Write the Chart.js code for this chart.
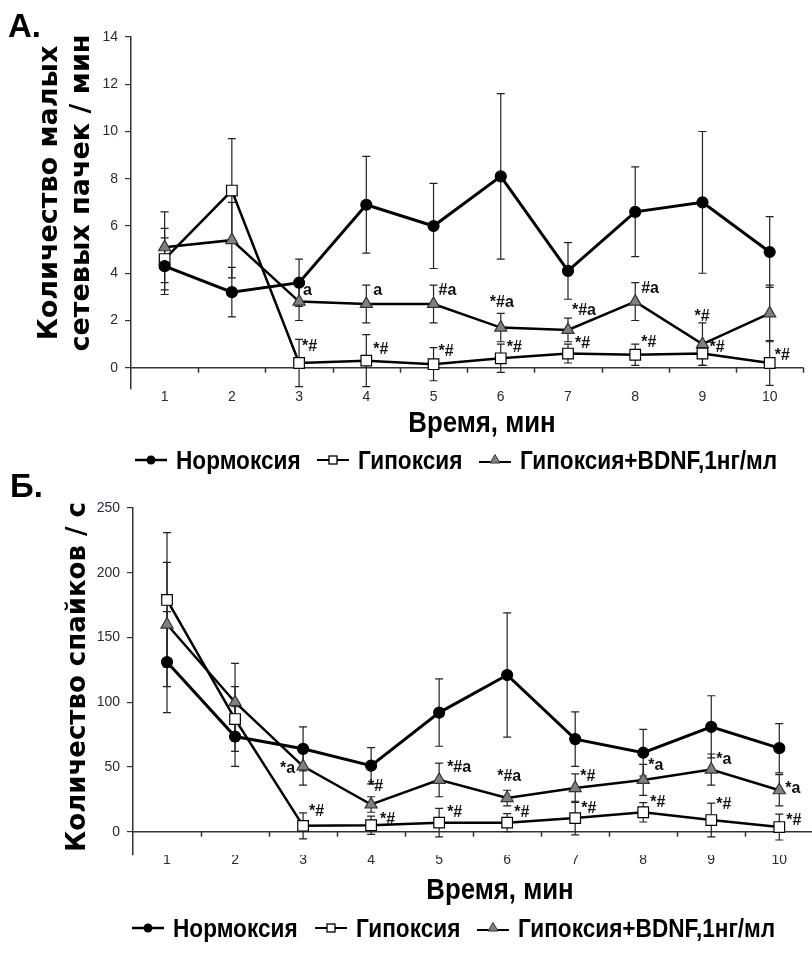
<!DOCTYPE html>
<html>
<head>
<meta charset="utf-8">
<script src="https://cdn.jsdelivr.net/npm/chart.js@4.4.1/dist/chart.umd.min.js"></script>
<style>
  html, body { margin: 0; padding: 0; background: #fff; overflow: hidden; }
  #page { position: relative; width: 812px; height: 960px; overflow: hidden; }
  #wrapA { position: absolute; left: 0; top: 0; width: 812px; height: 480px; }
  #wrapB { position: absolute; left: 0; top: 470px; width: 822px; height: 490px; }
  .legend { position: absolute; left: 0; width: 812px; height: 30px;
    font: bold 26px "Liberation Sans", Arial, sans-serif; color: #000; }
  .legend .item { position: absolute; top: 0; height: 30px; display: flex; align-items: center; white-space: nowrap; }
  .legend svg { margin-right: 9px; flex: none; }
  .legend .txt { display: inline-block; transform: scaleX(0.87); transform-origin: left center; }
</style>
</head>
<body>
<div id="page">
  <div id="wrapA"><canvas id="chartA" width="812" height="480"></canvas></div>
  <div id="wrapB"><canvas id="chartB" width="822" height="490"></canvas></div>
  <div class="legend" id="legendA" style="top:445px"></div>
  <div class="legend" id="legendB" style="top:913px"></div>
</div>
<script>
// ---- data ----
const minutes = ['1', '2', '3', '4', '5', '6', '7', '8', '9', '10'];
const seriesNames = ['Нормоксия', 'Гипоксия', 'Гипоксия+BDNF,1нг/мл'];

// А. small network bursts per minute (mean, error)
const burstTicks = [0, 2, 4, 6, 8, 10, 12, 14];
const burstsNorm = [4.3, 3.2, 3.6, 6.9, 6.0, 8.1, 4.1, 6.6, 7.0, 4.9];
const burstsNormErr = [1.2, 1.05, 1.0, 2.05, 1.8, 3.5, 1.2, 1.9, 3.0, 1.5];
const burstsHyp = [4.6, 7.5, 0.2, 0.3, 0.15, 0.4, 0.6, 0.55, 0.6, 0.2];
const burstsHypErr = [1.3, 2.2, 1.0, 1.1, 0.7, 0.6, 0.4, 0.45, 0.5, 0.95];
const burstsBdnf = [5.1, 5.4, 2.8, 2.7, 2.7, 1.7, 1.6, 2.8, 1.0, 2.3];
const burstsBdnfErr = [1.5, 1.6, 0.8, 0.8, 0.8, 0.6, 0.5, 0.8, 0.9, 1.2];
const burstsHypMarks = ['', '', '*#', '*#', '*#', '*#', '*#', '*#', '*#', '*#'];
const burstsBdnfMarks = ['', '', 'a', 'a', '#a', '*#a', '*#a', '#a', '*#', ''];

// Б. spikes per second (mean, error)
const spikeTicks = [0, 50, 100, 150, 200, 250];
const spikesNorm = [131, 73.5, 64, 51, 92, 121, 71.5, 61, 81, 64.5];
const spikesNormErr = [39, 23, 17, 14, 26, 48, 21, 18, 24, 19];
const spikesHyp = [179, 87, 4.5, 5, 7, 7, 10.5, 15, 9, 3.6];
const spikesHypErr = [52, 25, 10, 7, 11, 7, 13, 7.5, 13, 10];
const spikesBdnf = [160, 100, 50.5, 21, 40, 26, 33.7, 40, 48, 32];
const spikesBdnfErr = [48, 30, 14.6, 6, 13, 6, 11, 12, 12, 12];
const spikesHypMarks = ['', '', '*#', '*#', '*#', '*#', '*#', '*#', '*#', '*#'];
const spikesBdnfMarks = ['', '', '*a', '*#', '*#a', '*#a', '*#', '*a', '*a', '*a'];

// where each significance mark sits, [dx, dy] in px from its marker
const burstsHypMarkPos = [null, null, [3, 16], [7, 11], [5, 13], [6, 11], [7, 10], [6, 12], [7, 6], [5, 7]];
const burstsBdnfMarkPos = [null, null, [4, 11], [7, 13], [5, 13], [-11, 25], [4, 19], [6, 13], [-8, 28], null];
const spikesHypMarkPos = [null, null, [6, 14], [9, 6], [8, 10], [7, 10], [6, 10], [7, 10], [5, 15], [7, 6]];
const spikesBdnfMarkPos = [null, null, [-23, -2], [-3, 18], [8, 12], [-10, 21], [5, 11], [5, 14], [5, 10], [6, 2]];

// ---- styles ----
const SANS = '"Liberation Sans", Arial, sans-serif';
const WIDE = '"DejaVu Sans", Verdana, sans-serif';
const AXIS = '#333';

// ---- plugins ----
const zeroAxis = {
  id: 'zeroAxis',
  beforeDatasetsDraw(chart) {
    const { ctx, chartArea } = chart;
    const x = chart.scales.x;
    const y0 = chart.scales.y.getPixelForValue(0);
    ctx.save();
    ctx.strokeStyle = AXIS;
    ctx.lineWidth = 1.5;
    ctx.beginPath();
    ctx.moveTo(chartArea.left, y0);
    ctx.lineTo(chartArea.right, y0);
    for (let i = 0; i < minutes.length; i++) {
      const tx = Math.round(x.getPixelForValue(i + 0.5)) + 0.5;
      ctx.moveTo(tx, y0);
      ctx.lineTo(tx, y0 + 5);
    }
    ctx.stroke();
    ctx.restore();
  }
};

const errorBars = {
  id: 'errorBars',
  beforeDatasetsDraw(chart) {
    const { ctx } = chart;
    const y = chart.scales.y;
    ctx.save();
    ctx.strokeStyle = '#222';
    ctx.lineWidth = 1.2;
    chart.data.datasets.forEach((ds, i) => {
      chart.getDatasetMeta(i).data.forEach((pt, j) => {
        const top = y.getPixelForValue(ds.data[j] + ds.errors[j]);
        const bot = y.getPixelForValue(ds.data[j] - ds.errors[j]);
        ctx.beginPath();
        ctx.moveTo(pt.x, top); ctx.lineTo(pt.x, bot);
        ctx.moveTo(pt.x - 4, top); ctx.lineTo(pt.x + 4, top);
        ctx.moveTo(pt.x - 4, bot); ctx.lineTo(pt.x + 4, bot);
        ctx.stroke();
      });
    });
    ctx.restore();
  }
};

const sigMarks = {
  id: 'sigMarks',
  afterDatasetsDraw(chart) {
    const { ctx } = chart;
    ctx.save();
    ctx.font = 'bold 16px ' + SANS;
    ctx.fillStyle = '#111';
    ctx.textAlign = 'left';
    ctx.textBaseline = 'middle';
    chart.data.datasets.forEach((ds, i) => {
      if (!ds.marks) return;
      chart.getDatasetMeta(i).data.forEach((pt, j) => {
        const pos = ds.markPos[j];
        if (!ds.marks[j] || !pos) return;
        ctx.fillText(ds.marks[j], pt.x + pos[0], pt.y - pos[1]);
      });
    });
    ctx.restore();
  }
};

// panel letter, rotated y title and the condensed x title
const panelText = {
  id: 'panelText',
  afterDraw(chart, args, opts) {
    const { ctx } = chart;
    ctx.save();
    ctx.fillStyle = '#000';
    ctx.font = 'bold 33px ' + SANS;
    ctx.textAlign = 'left';
    ctx.textBaseline = 'alphabetic';
    ctx.fillText(opts.letter, opts.letterX, opts.letterY);

    ctx.font = 'bold ' + opts.titleSize + 'px ' + WIDE;
    ctx.textAlign = 'center';
    opts.title.forEach((line, k) => {
      ctx.save();
      ctx.translate(opts.titleX[k], opts.titleY);
      ctx.rotate(-Math.PI / 2);
      ctx.fillText(line, 0, 0);
      ctx.restore();
    });

    ctx.save();
    ctx.font = 'bold 30px ' + SANS;
    ctx.textBaseline = 'middle';
    ctx.translate(opts.xTitleX, opts.xTitleY);
    ctx.scale(0.86, 1);
    ctx.fillText('Время, мин', 0, 0);
    ctx.restore();
    ctx.restore();
  }
};

// ---- chart builder ----
function lineSet(k, data, errors, marks, markPos) {
  const looks = [
    { pointStyle: 'circle', pointRadius: 5.5, pointBackgroundColor: '#000', pointBorderColor: '#000', borderWidth: 3 },
    { pointStyle: 'rect', pointRadius: 7.5, pointBackgroundColor: '#fff', pointBorderColor: '#000', borderWidth: 2.5 },
    { pointStyle: 'triangle', pointRadius: 7, pointBackgroundColor: '#808080', pointBorderColor: '#333', borderWidth: 2.5 }
  ][k];
  return Object.assign({
    label: seriesNames[k], data, errors, marks, markPos,
    borderColor: '#000', pointBorderWidth: 1.2, tension: 0
  }, looks);
}

function makeChart(id, cfg) {
  return new Chart(document.getElementById(id), {
    type: 'line',
    data: { labels: minutes, datasets: cfg.datasets },
    plugins: [zeroAxis, errorBars, sigMarks, panelText],
    options: {
      responsive: false,
      animation: false,
      layout: { padding: { top: cfg.top, right: cfg.right, left: 0, bottom: 0 } },
      plugins: {
        legend: { display: false },
        tooltip: { enabled: false },
        panelText: cfg.panel
      },
      scales: {
        x: {
          offset: true,
          afterFit: s => { s.height = cfg.xHeight; },
          border: { display: false },
          grid: { display: false, drawTicks: false },
          ticks: { padding: cfg.xTickPad, color: '#2a2a3a', maxRotation: 0, autoSkip: false,
            font: { family: SANS, size: 14, lineHeight: 1 } }
        },
        y: {
          min: cfg.yMin, max: cfg.yMax,
          afterBuildTicks: s => { s.ticks = cfg.yTicks.map(v => ({ value: v })); },
          afterFit: s => { s.width = cfg.yWidth; },
          border: { display: true, color: AXIS, width: 1.5 },
          grid: { drawOnChartArea: false, drawTicks: true, tickLength: 6, color: AXIS, lineWidth: 1.2 },
          ticks: { padding: 7, color: '#2a2a3a', font: { family: SANS, size: 14, lineHeight: 1 } }
        }
      }
    }
  });
}

makeChart('chartA', {
  top: 37, right: 1, yWidth: 131, xHeight: 91, xTickPad: 1,
  yMin: -0.9, yMax: 14, yTicks: burstTicks,
  panel: { letter: 'А.', letterX: 8, letterY: 37,
    title: ['Количество малых', 'сетевых пачек / мин'], titleSize: 27, titleX: [57, 89], titleY: 193,
    xTitleX: 482, xTitleY: 424 },
  datasets: [
    lineSet(0, burstsNorm, burstsNormErr, null, null),
    lineSet(1, burstsHyp, burstsHypErr, burstsHypMarks, burstsHypMarkPos),
    lineSet(2, burstsBdnf, burstsBdnfErr, burstsBdnfMarks, burstsBdnfMarkPos)
  ]
});

makeChart('chartB', {
  top: 38, right: 1, yWidth: 133, xHeight: 105, xTickPad: -2,
  yMin: -18, yMax: 250, yTicks: spikeTicks,
  panel: { letter: 'Б.', letterX: 10, letterY: 27,
    title: ['Количество спайков / с'], titleSize: 26, titleX: [85], titleY: 207,
    xTitleX: 500, xTitleY: 421 },
  datasets: [
    lineSet(0, spikesNorm, spikesNormErr, null, null),
    lineSet(1, spikesHyp, spikesHypErr, spikesHypMarks, spikesHypMarkPos),
    lineSet(2, spikesBdnf, spikesBdnfErr, spikesBdnfMarks, spikesBdnfMarkPos)
  ]
});

// ---- html legends ----
const legendIcons = [
  '<svg width="32" height="14"><line x1="0" y1="7" x2="32" y2="7" stroke="#000" stroke-width="2.5"/><circle cx="16" cy="7" r="4.5" fill="#000"/></svg>',
  '<svg width="32" height="14"><line x1="0" y1="7" x2="32" y2="7" stroke="#000" stroke-width="2"/><rect x="12" y="3" width="8" height="8" fill="#fff" stroke="#000" stroke-width="1.3"/></svg>',
  '<svg width="32" height="14"><line x1="0" y1="9" x2="32" y2="9" stroke="#000" stroke-width="2"/><polygon points="16,1.5 21,10 11,10" fill="#808080" stroke="#333" stroke-width="1"/></svg>'
];
function renderLegend(id, lefts) {
  document.getElementById(id).innerHTML = seriesNames.map((name, k) =>
    `<span class="item" style="left:${lefts[k]}px">${legendIcons[k]}<span class="txt">${name}</span></span>`
  ).join('');
}
renderLegend('legendA', [135, 317, 479]);
renderLegend('legendB', [132, 315, 477]);
</script>
</body>
</html>
